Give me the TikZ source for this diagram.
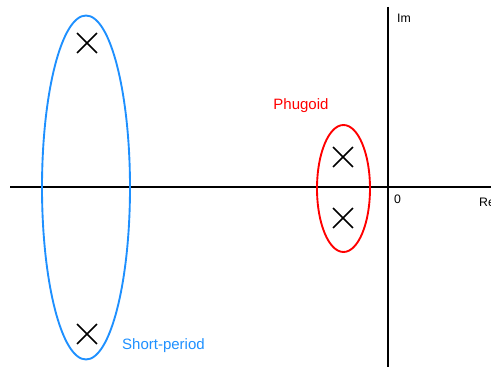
\documentclass[tikz,border=0pt]{standalone}
\usepackage{fontspec}
\setmainfont{Liberation Sans}
\usetikzlibrary{shapes.misc}
\definecolor{spblue}{RGB}{30,144,255}
\definecolor{phred}{RGB}{255,0,0}
\tikzset{
  axis/.style={line width=1.6pt, black},
  pole/.style={cross out, draw=black, line width=1.5pt, minimum size=15.5pt, inner sep=0pt},
  modering/.style={line width=1.6pt},
  axlabel/.style={font=\fontsize{10.5}{12}\selectfont, anchor=west, inner sep=0pt},
  modelabel/.style={font=\fontsize{12.8}{15}\selectfont, inner sep=0pt},
}
\begin{document}
\begin{tikzpicture}[x=0.03cm, y=-0.03cm]
\useasboundingbox (0,0) rectangle (491,367);

% ---------------- AXES ----------------
\coordinate (re-start) at (10,187);
\coordinate (re-end) at (495,187);
\coordinate (im-top) at (388,7);
\coordinate (im-bot) at (388,367);
\draw[axis] (re-start) -- (re-end);
\draw[axis] (im-top) -- (im-bot);
\node[axlabel] (lbl-im) at (397,18) {Im};
\node[axlabel] (lbl-zero) at (394,199) {0};
\node[axlabel] (lbl-re) at (479,202) {Re};

% ---------------- SHORT-PERIOD ----------------
\node[pole] (sp-up) at (87,43) {};
\node[pole] (sp-dn) at (87,334) {};
\draw[modering, spblue] (86,187.5) ellipse (44 and 172);
\node[modelabel, text=spblue, anchor=west] (lbl-sp) at (122,345.5) {Short-period};

% ---------------- PHUGOID ----------------
\node[pole] (ph-up) at (343,157) {};
\node[pole] (ph-dn) at (343,218) {};
\draw[modering, phred] (343.5,188.5) ellipse (26.5 and 63.5);
\node[modelabel, text=phred] (lbl-ph) at (301,105.5) {Phugoid};

\end{tikzpicture}
\end{document}
